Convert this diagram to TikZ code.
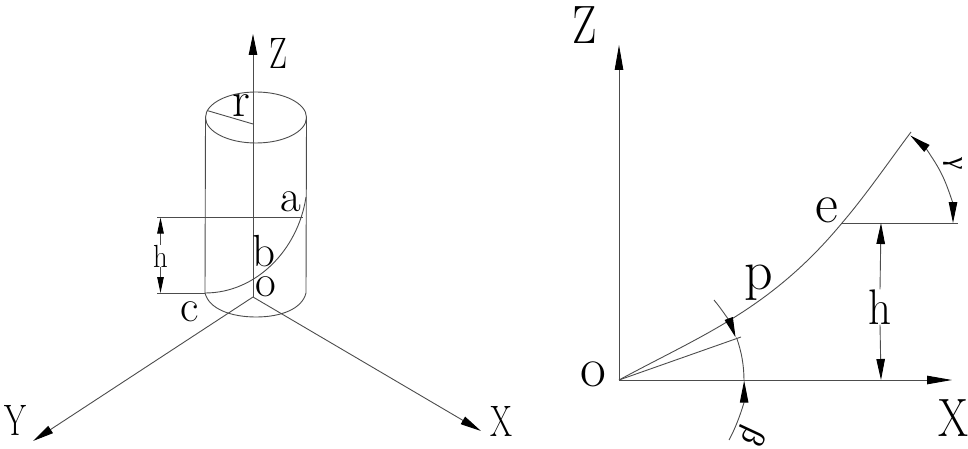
\documentclass[tikz,border=0pt]{standalone}
\usepackage{fontspec}
\newfontfamily\grk{Liberation Serif}
\usetikzlibrary{arrows.meta,calc}
\tikzset{
  ln/.style={draw=black!70,line width=0.9pt},
  tip/.style={-{Stealth[length=#1,width=8.5pt,inset=0pt,color=black]}},
  tip/.default=21pt,
  smalltip/.style={-{Stealth[length=16pt,width=6.5pt,inset=0pt,color=black]}},
  lab/.style={inner sep=0pt,text=black},
  sm/.style={lab,font=\fontsize{45}{45}\selectfont},
  capl/.style={lab,font=\fontsize{44}{44}\selectfont,xscale=0.72},
  lg/.style={lab,font=\fontsize{56}{56}\selectfont},
  lgcap/.style={lab,font=\fontsize{54}{54}\selectfont,xscale=0.8},
}
\begin{document}
\begin{tikzpicture}[x=1pt,y=-1pt]
\useasboundingbox (0,0) rectangle (968,449);
% left figure
\coordinate (O1) at (253,297);
\coordinate (Zt) at (253,34);
\coordinate (Yt) at (33,441);
\coordinate (Xt) at (481,431);
\draw[ln,tip] (O1) -- (Zt);
\draw[ln,tip] (O1) -- (Yt);
\draw[ln,tip] (O1) -- (Xt);
\draw[ln] (256,117.5) ellipse [x radius=50.5,y radius=25.5];
\coordinate (TL) at (205.5,117.5);
\coordinate (TR) at (306.5,117.5);
\coordinate (BL) at (205,293);
\coordinate (BR) at (306,293);
\draw[ln] (TL) -- (BL);
\draw[ln] (TR) -- (BR);
\draw[ln] (BL) .. controls (209,309) and (231,317) .. (256,317) .. controls (281,317) and (302,309) .. (BR);
\coordinate (R1) at (207,110.5);
\coordinate (R2) at (253,124);
\draw[ln] (R1) -- (R2);
\coordinate (D1) at (157,217.5);
\coordinate (D2) at (303,217.5);
\coordinate (D3) at (157,293);
\draw[ln] (D1) -- (D2);
\draw[ln] (D3) -- (BL);
\coordinate (A) at (306,197);
\draw[ln] (A) .. controls (298,250) and (256,293) .. (BL);
\coordinate (H1) at (160.5,217.5);
\coordinate (H2) at (160.5,293);
\node[lab,font=\fontsize{32}{32}\selectfont,xscale=0.9] (hl) at (160.5,256) {h};
\draw[ln,smalltip] (hl.north) -- (H1);
\draw[ln,smalltip] (hl.south) -- (H2);
\node[capl] (z1) at (278,53) {Z};
\node[lab,font=\fontsize{50}{50}\selectfont] (r1) at (241.5,106) {r};
\node[sm] (a1) at (291,202) {a};
\node[sm] (b1) at (264,251) {b};
\node[sm] (o1) at (266,287) {o};
\node[sm] (c1) at (190,312) {c};
\node[capl] (y1) at (15,420) {Y};
\node[capl] (x1) at (501,421) {X};
% right figure
\coordinate (O2) at (619,380);
\coordinate (Z2) at (619,45);
\coordinate (X2) at (952,380);
\draw[ln,tip=25pt] (O2) -- (Z2);
\draw[ln,tip=25pt] (O2) -- (X2);
\coordinate (E) at (842,223);
\coordinate (F) at (911,132);
\draw[ln] (O2) .. controls (700,336) and (770,310) .. (E) .. controls (866,195) and (890,160) .. (F);
\coordinate (G) at (958,223);
\draw[ln] (E) -- (G);
\coordinate (HT) at (881,223);
\coordinate (HB) at (881,380);
\node[lab,font=\fontsize{50}{50}\selectfont,xscale=0.9] (h2) at (880,307) {h};
\draw[ln,tip] (h2.north) -- (HT);
\draw[ln,tip] (h2.south) -- (HB);
\coordinate (T) at (741,337);
\draw[ln] (O2) -- (T);
% gamma arc
\coordinate (gm) at ($(E)+(-27:111)$);
\draw[ln,tip] (gm) arc [start angle=-27,end angle=-52,radius=111];
\draw[ln,tip] (gm) arc [start angle=-27,end angle=0,radius=111];
% beta arc
\draw[ln,tip=20pt] (714,300) arc [start angle=-40,end angle=-20,radius=124];
\draw[ln] (736.5,337.6) arc [start angle=-20,end angle=0,radius=124];
\draw[ln,tip=22pt] (729,440) arc [start angle=28.6,end angle=0,radius=124];
\node[lgcap] (z2) at (585,25) {Z};
\node[lg] (o2) at (593,374) {o};
\node[lg] (p2) at (759,283) {p};
\node[lg] (e2) at (827,210) {e};
\node[lgcap] (x2) at (953,418) {X};
\node[lab,font=\grk\fontsize{28}{28}\selectfont,rotate=-90] (ga) at (953,164) {γ};
\node[lab,font=\grk\fontsize{32}{32}\selectfont,rotate=-115] (be) at (751,436) {β};
\end{tikzpicture}
\end{document}
